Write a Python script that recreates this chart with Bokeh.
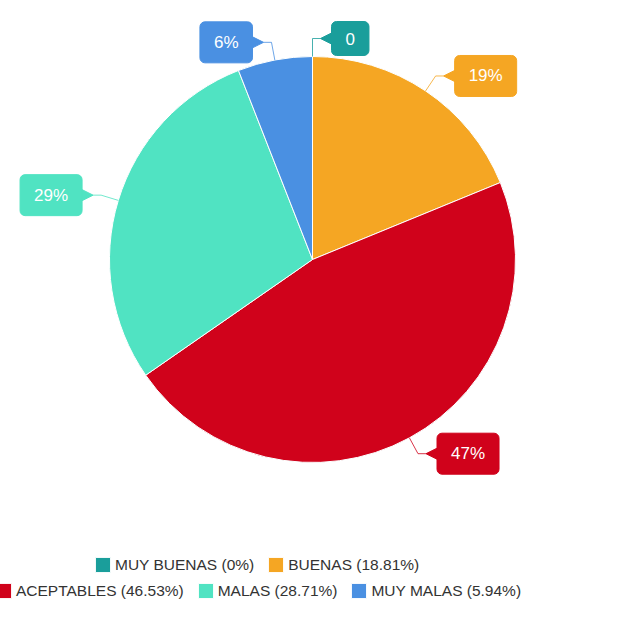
import numpy as np
from bokeh.plotting import figure
from bokeh.models import Range1d, Label, Legend, LegendItem, ColumnDataSource
from bokeh.embed import file_html
from bokeh.resources import INLINE

# ---- data ----
categories = ["MUY BUENAS", "BUENAS", "ACEPTABLES", "MALAS", "MUY MALAS"]
percentages = [0.0, 18.81, 46.53, 28.71, 5.94]
slice_labels = ["0", "19%", "47%", "29%", "6%"]
colors = ["#1a9e9b", "#f5a623", "#d0021b", "#50e3c2", "#4a90e2"]

# ---- layout ----
W, H = 617, 601
CX, CY = 312, H - 259
R = 203
KNEE = 18

p = figure(width=W, height=H, x_range=Range1d(0, W), y_range=Range1d(0, H),
           output_backend="svg", toolbar_location=None, min_border=0,
           x_axis_location=None, y_axis_location=None)
p.grid.visible = False
p.outline_line_color = None

vals = np.array(percentages, dtype=float)
frac = vals / vals.sum()
cum_end = np.cumsum(frac)
cum_start = cum_end - frac
start = np.pi / 2 - 2 * np.pi * cum_end
end = np.pi / 2 - 2 * np.pi * cum_start

src = ColumnDataSource(dict(x=[CX] * len(vals), y=[CY] * len(vals),
                            start=start, end=end, color=colors,
                            cat=categories))
wr = p.wedge(x="x", y="y", radius=R, start_angle="start", end_angle="end",
             fill_color="color", line_color="white", line_width=1, source=src)

# ---- callouts ----
theta = 2 * np.pi * (cum_start + frac / 2)
lx, ly, tx, ty = [], [], [], []
for i, th in enumerate(theta):
    s, c = np.sin(th), np.cos(th)
    side = 1 if s >= -1e-9 else -1
    ex, ey = CX + R * s, CY + R * c
    kx, ky = CX + (R + KNEE) * s, CY + (R + KNEE) * c
    tipx = kx + side * 8
    bx = kx + side * 19
    lx.append([ex, kx, tipx])
    ly.append([ey, ky, ky])
    tx.append([tipx, bx + side * 1, bx + side * 1])
    ty.append([ky, ky + 6, ky - 6])
    p.add_layout(Label(x=bx, y=ky, text=slice_labels[i],
                       text_align="left" if side > 0 else "right",
                       text_baseline="middle", text_color="white",
                       text_font="Liberation Sans", text_font_size="17px",
                       background_fill_color=colors[i],
                       border_line_color=colors[i],
                       border_radius=5, padding=(14, 11)))

p.multi_line(xs=lx, ys=ly, line_color=colors, line_width=1, line_alpha=0.8)
p.patches(xs=tx, ys=ty, fill_color=colors, line_color=colors)

# ---- legends ----
labels = [f"{c} ({v:g}%)" for c, v in zip(categories, percentages)]
common = dict(orientation="horizontal", padding=0, margin=0, spacing=12,
              glyph_width=19, glyph_height=19, label_standoff=3,
              label_text_font="Liberation Sans", label_text_font_size="15.5px",
              label_text_color="#333333", border_line_color=None,
              background_fill_alpha=0)
leg1 = Legend(items=[LegendItem(label=labels[i], renderers=[wr], index=i) for i in (0, 1)],
              location=(93, 27), **common)
leg2 = Legend(items=[LegendItem(label=labels[i], renderers=[wr], index=i) for i in (2, 3, 4)],
              location=(-6, 1), **common)
p.add_layout(leg1)
p.add_layout(leg2)

open("out.html", "w").write(file_html(p, INLINE))
